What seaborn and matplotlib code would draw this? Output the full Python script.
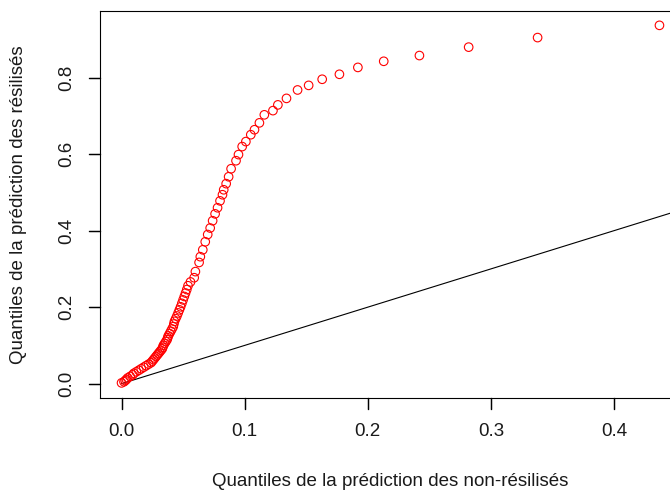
import matplotlib
matplotlib.use("Agg")
import matplotlib.pyplot as plt
from matplotlib.ticker import FixedLocator, FormatStrFormatter
from matplotlib.lines import Line2D
import seaborn as sns
import pandas as pd

# Quantiles (non-résiliés on x, résiliés on y)
q_non_resilies = [
    0.000, 0.002, 0.003, 0.004, 0.005, 0.007, 0.009, 0.010, 0.012, 0.014,
    0.016, 0.018, 0.020, 0.022, 0.024, 0.025, 0.026, 0.027, 0.028, 0.029,
    0.030, 0.031, 0.032, 0.033, 0.0335, 0.034, 0.035, 0.036, 0.037, 0.0375,
    0.038, 0.039, 0.040, 0.041, 0.042, 0.0425, 0.043, 0.044, 0.045, 0.046,
    0.047, 0.048, 0.049, 0.050, 0.051, 0.052, 0.053, 0.054, 0.056,
    0.059, 0.060, 0.063, 0.064, 0.066, 0.068, 0.070, 0.072, 0.074, 0.076,
    0.078, 0.080, 0.082, 0.083, 0.085, 0.087, 0.089, 0.093, 0.095, 0.098,
    0.101, 0.105, 0.108, 0.112, 0.116, 0.123, 0.127, 0.134, 0.143, 0.152,
    0.163, 0.177, 0.192, 0.213, 0.242, 0.282, 0.338, 0.437,
]
q_resilies = [
    0.002, 0.005, 0.008, 0.011, 0.015, 0.019, 0.023, 0.027, 0.031, 0.035,
    0.039, 0.043, 0.047, 0.051, 0.055, 0.059, 0.063, 0.067, 0.071, 0.075,
    0.079, 0.083, 0.087, 0.091, 0.095, 0.100, 0.105, 0.110, 0.115, 0.120,
    0.125, 0.131, 0.137, 0.143, 0.149, 0.156, 0.163, 0.170, 0.177, 0.185,
    0.193, 0.201, 0.210, 0.219, 0.228, 0.237, 0.246, 0.256, 0.266,
    0.277, 0.293, 0.317, 0.332, 0.350, 0.371, 0.390, 0.407, 0.426, 0.444,
    0.460, 0.478, 0.494, 0.507, 0.523, 0.541, 0.562, 0.583, 0.599, 0.620,
    0.633, 0.651, 0.664, 0.682, 0.703, 0.714, 0.729, 0.746, 0.768, 0.780,
    0.796, 0.809, 0.827, 0.843, 0.858, 0.880, 0.905, 0.937,
]
# reference line y = x, starting at the origin
ref_line_x = [0.0, 1.0]
ref_line_y = [0.0, 1.0]
x_ticks = [0.0, 0.1, 0.2, 0.3, 0.4]
y_ticks = [0.0, 0.2, 0.4, 0.6, 0.8]
x_label = "Quantiles de la prédiction des non-résilisés"
y_label = "Quantiles de la prédiction des résilisés"

df = pd.DataFrame({"x": q_non_resilies, "y": q_resilies})
ref = pd.DataFrame({"x": ref_line_x, "y": ref_line_y})

plt.rcParams["font.family"] = ["Liberation Sans", "DejaVu Sans"]
FS = 13.5

W, H = 670, 493
AX_W, AX_H = 581, 387
fig = plt.figure(figsize=(W / 100, H / 100), dpi=100)
ax = fig.add_axes([100 / W, 1 - 398 / H, AX_W / W, AX_H / H])

sns.lineplot(data=ref, x="x", y="y", ax=ax, color="black", linewidth=0.8, zorder=2)
sns.scatterplot(data=df, x="x", y="y", ax=ax, marker="o", s=38,
                facecolor="none", edgecolor="#ff0000", linewidth=0.8, zorder=3)

ax.set_xlim(-0.0175, 0.4545)
ax.set_ylim(-0.0375, 0.9745)
ax.xaxis.set_major_locator(FixedLocator(x_ticks))
ax.yaxis.set_major_locator(FixedLocator(y_ticks))
ax.xaxis.set_major_formatter(FormatStrFormatter("%.1f"))
ax.yaxis.set_major_formatter(FormatStrFormatter("%.1f"))

ax.tick_params(axis="both", direction="out", length=8, width=0.9, color="black",
               pad=10, labelsize=FS, labelcolor="#1a1a1a")
for lab in ax.get_yticklabels():
    lab.set_rotation(90)
    lab.set_va("center")

ax.set_xlabel(x_label, fontsize=FS, color="#1a1a1a")
ax.set_ylabel(y_label, fontsize=FS, color="#1a1a1a")
ax.xaxis.set_label_coords(0.5, -0.2145)
ax.xaxis.label.set_va("center")
ax.yaxis.set_label_coords(-0.141, 0.5)
ax.yaxis.label.set_va("center")

# figure-level tick marks placed through the axes' data transform
fig.canvas.draw()
to_fig = fig.transFigure.inverted()
tick_len = 11
for v in x_ticks:
    px, py = ax.transData.transform((v, ax.get_ylim()[0]))
    (x0, y0), (x1, y1) = to_fig.transform([(px, py), (px, py - tick_len)])
    fig.add_artist(Line2D([x0, x1], [y0, y1], transform=fig.transFigure,
                          color="black", linewidth=0.9, zorder=20))
for v in y_ticks:
    px, py = ax.transData.transform((ax.get_xlim()[0], v))
    (x0, y0), (x1, y1) = to_fig.transform([(px, py), (px - tick_len, py)])
    fig.add_artist(Line2D([x0, x1], [y0, y1], transform=fig.transFigure,
                          color="black", linewidth=0.9, zorder=20))

fig.savefig("out.png", dpi=100, facecolor="white")
